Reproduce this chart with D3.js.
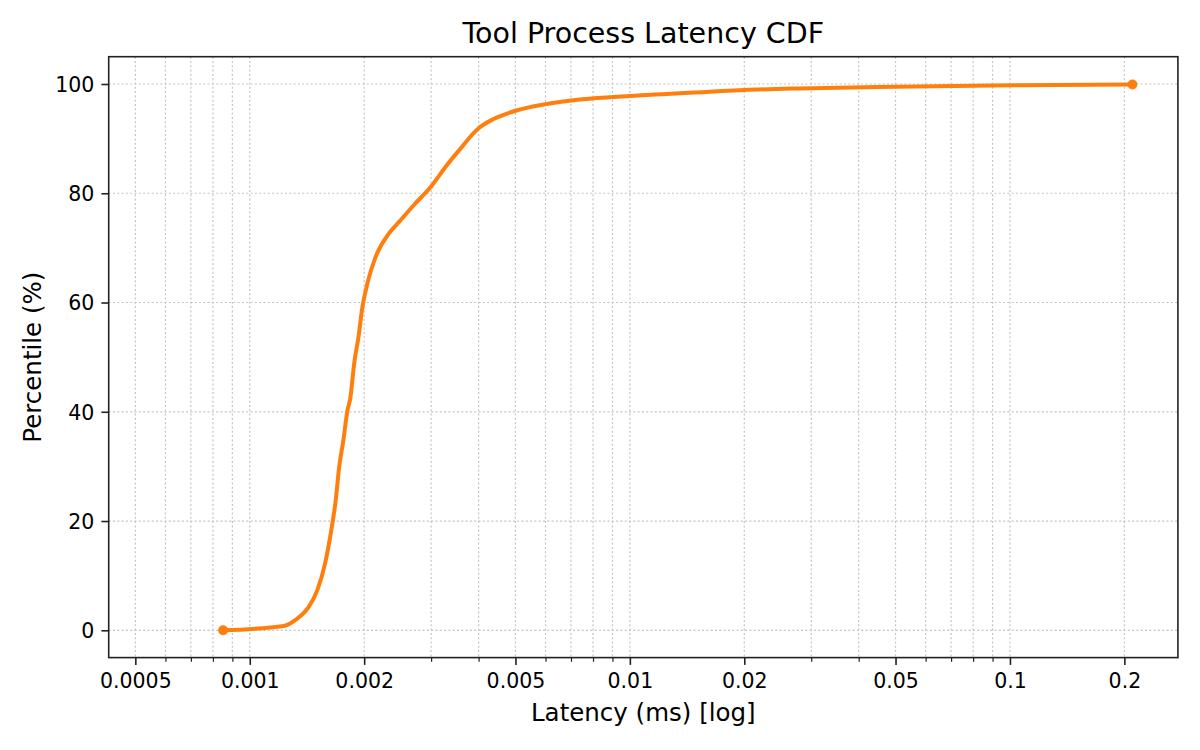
<!DOCTYPE html>
<html>
<head>
<meta charset="utf-8">
<script src="https://cdn.jsdelivr.net/npm/d3@7"></script>
<style>
  body { margin: 0; background: #fff; }
  text { font-family: "DejaVu Sans", sans-serif; fill: #000; }
</style>
</head>
<body>
<div id="chart"></div>
<script>
// values
var latencyMs = [0.000851, 0.001231, 0.00132, 0.00142, 0.001507, 0.001579, 0.001634,
  0.001684, 0.001719, 0.001763, 0.001808, 0.001838, 0.001883, 0.001932, 0.001979,
  0.002039, 0.002145, 0.002327, 0.002474, 0.002707, 0.002996, 0.00328, 0.003557,
  0.004, 0.004355, 0.005, 0.005992, 0.007512, 0.01, 0.01587, 0.02, 0.028, 0.05,
  0.1018, 0.21];
var percentile = [0, 0.8, 1.9, 4.0, 7.4, 12.3, 17.8,
  23.9, 29.9, 34.8, 40.3, 42.4, 48.9, 53.7, 59.2,
  63.5, 68.4, 72.7, 74.8, 77.9, 81.2, 84.9, 87.9,
  91.9, 93.5, 95.1, 96.3, 97.2, 97.8, 98.55, 98.9, 99.2, 99.5,
  99.76, 99.9];

var xMajor = [0.0005, 0.001, 0.002, 0.005, 0.01, 0.02, 0.05, 0.1, 0.2];
var xMinor = [0.0006, 0.0007, 0.0008, 0.0009, 0.003, 0.004, 0.006, 0.007, 0.008,
  0.009, 0.03, 0.04, 0.06, 0.07, 0.08, 0.09];
var yTicks = [0, 20, 40, 60, 80, 100];

var width = 1200, height = 750;
var plotL = 108.7, plotR = 1177.9, plotT = 56.7, plotB = 657.6;
var orange = "#ff7f0e";

var points = latencyMs.map(function(d, i){ return [d, percentile[i]]; });

var svg = d3.select("#chart").append("svg")
  .attr("width", width)
  .attr("height", height);

// x domain: left limit is half the smallest value, right is a 5% log margin
var xMin = d3.min(latencyMs), xMax = d3.max(latencyMs);
var logSpan = Math.log10(xMax) - Math.log10(xMin);
var x = d3.scaleLog()
  .domain([xMin / 2, Math.pow(10, Math.log10(xMax) + logSpan * 0.05)])
  .range([plotL, plotR]);

var y = d3.scaleLinear()
  .domain([-5, 105])
  .range([plotB, plotT]);

// grid
var grid = svg.append("g").attr("stroke", "#c4c4c4").attr("stroke-width", 1.2)
  .attr("stroke-dasharray", "2,2.3");
xMajor.concat(xMinor).forEach(function(v){
  grid.append("line")
    .attr("x1", x(v)).attr("x2", x(v))
    .attr("y1", plotT).attr("y2", plotB);
});
yTicks.forEach(function(v){
  grid.append("line")
    .attr("x1", plotL).attr("x2", plotR)
    .attr("y1", y(v)).attr("y2", y(v));
});

// curve
var line = d3.line()
  .x(function(d){ return x(d[0]); })
  .y(function(d){ return y(d[1]); })
  .curve(d3.curveMonotoneX);

svg.append("path")
  .datum(points)
  .attr("d", line)
  .attr("fill", "none")
  .attr("stroke", orange)
  .attr("stroke-width", 4)
  .attr("stroke-linejoin", "round")
  .attr("stroke-linecap", "round");

svg.selectAll(".end")
  .data([points[0], points[points.length - 1]])
  .enter().append("circle")
  .attr("cx", function(d){ return x(d[0]); })
  .attr("cy", function(d){ return y(d[1]); })
  .attr("r", 5)
  .attr("fill", orange);

// axes
var xAxis = svg.append("g")
  .attr("transform", "translate(0," + plotB + ")")
  .call(d3.axisBottom(x).tickValues(xMajor).tickSize(7.3).tickPadding(9)
    .tickFormat(function(d){ return String(d); }));
xAxis.selectAll("text").attr("font-size", "20.5px");

var xAxisMinor = svg.append("g")
  .attr("transform", "translate(0," + plotB + ")")
  .call(d3.axisBottom(x).tickValues(xMinor).tickSize(4.2).tickFormat(""));
xAxisMinor.selectAll("line").attr("stroke-width", 1.2);

var yAxis = svg.append("g")
  .attr("transform", "translate(" + plotL + ",0)")
  .call(d3.axisLeft(y).tickValues(yTicks).tickSize(7.3).tickPadding(7));
yAxis.selectAll("text").attr("font-size", "20.5px").attr("dy", "0.36em");

[xAxis, xAxisMinor, yAxis].forEach(function(g){
  g.select(".domain").remove();
  g.selectAll("line").attr("stroke", "#222");
});
xAxis.selectAll("line").attr("stroke-width", 1.6);
yAxis.selectAll("line").attr("stroke-width", 1.6);

// frame
svg.append("rect")
  .attr("x", plotL).attr("y", plotT)
  .attr("width", plotR - plotL).attr("height", plotB - plotT)
  .attr("fill", "none")
  .attr("stroke", "#222")
  .attr("stroke-width", 1.6);

// labels
svg.append("text")
  .attr("x", (plotL + plotR) / 2).attr("y", 43.3)
  .attr("text-anchor", "middle")
  .attr("font-size", "28.5px")
  .text("Tool Process Latency CDF");

svg.append("text")
  .attr("x", (plotL + plotR) / 2).attr("y", 721)
  .attr("text-anchor", "middle")
  .attr("font-size", "24.5px")
  .text("Latency (ms) [log]");

svg.append("text")
  .attr("transform", "translate(41," + ((plotT + plotB) / 2) + ") rotate(-90)")
  .attr("text-anchor", "middle")
  .attr("font-size", "24.5px")
  .text("Percentile (%)");
</script>
</body>
</html>
